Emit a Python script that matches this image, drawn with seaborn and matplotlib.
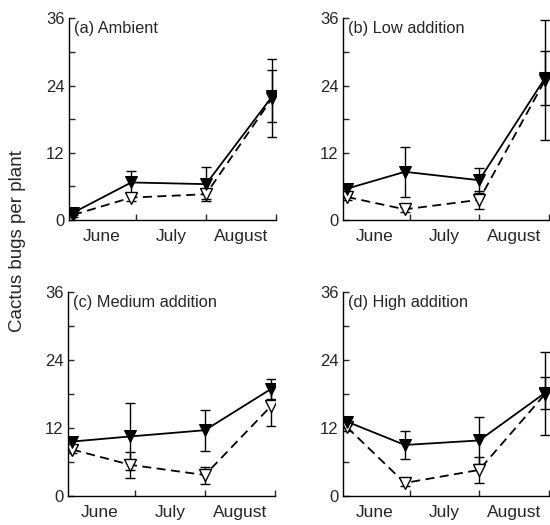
import matplotlib
matplotlib.use("Agg")
import matplotlib.pyplot as plt
import seaborn as sns
import pandas as pd

# ---- data ----
panel_titles = ["(a) Ambient", "(b) Low addition", "(c) Medium addition", "(d) High addition"]
sample_pos = [0.1, 0.93, 2.0, 2.95]          # sampling dates on the month axis
month_labels = ["June", "July", "August"]
month_pos = [0.5, 1.5, 2.5]
month_ticks = [1, 2, 3]

ambient_filled = [1.3, 6.7, 6.4, 22.1]
ambient_filled_se = [0.5, 2.0, 3.0, 4.6]
ambient_open = [0.9, 4.0, 4.6, 21.8]
ambient_open_se = [0.4, 0.7, 0.8, 7.0]

low_filled = [5.6, 8.6, 7.1, 25.4]
low_filled_se = [0.6, 4.5, 2.2, 4.8]
low_open = [4.1, 1.9, 3.6, 25.0]
low_open_se = [0.5, 0.5, 1.6, 10.7]

medium_filled = [9.6, 10.5, 11.6, 18.9]
medium_filled_se = [0.6, 5.9, 3.6, 1.8]
medium_open = [8.2, 5.5, 3.7, 15.9]
medium_open_se = [0.6, 2.3, 1.5, 3.5]

high_filled = [13.1, 9.0, 9.8, 18.2]
high_filled_se = [0.6, 2.4, 4.1, 2.8]
high_open = [12.1, 2.3, 4.6, 18.0]
high_open_se = [0.6, 0.5, 2.3, 7.3]

filled_series = [ambient_filled, low_filled, medium_filled, high_filled]
filled_errs = [ambient_filled_se, low_filled_se, medium_filled_se, high_filled_se]
open_series = [ambient_open, low_open, medium_open, high_open]
open_errs = [ambient_open_se, low_open_se, medium_open_se, high_open_se]

sns.set_style("ticks")
plt.rcParams["font.family"] = ["Liberation Sans", "DejaVu Sans"]
plt.rcParams["font.size"] = 12

fig = plt.figure(figsize=(5.5, 5.25), dpi=100)
rects = [
    [0.1255, 0.581, 0.376, 0.384],
    [0.6236, 0.581, 0.374, 0.384],
    [0.1236, 0.0552, 0.376, 0.389],
    [0.6236, 0.0552, 0.374, 0.389],
]

for i, r in enumerate(rects):
    ax = fig.add_axes(r)
    df_f = pd.DataFrame({"pos": sample_pos, "val": filled_series[i], "se": filled_errs[i]})
    df_o = pd.DataFrame({"pos": sample_pos, "val": open_series[i], "se": open_errs[i]})

    ax.errorbar(df_o["pos"], df_o["val"], yerr=df_o["se"], fmt="none",
                ecolor="black", elinewidth=1.0, capsize=3.5, capthick=1.0, zorder=1)
    ax.errorbar(df_f["pos"], df_f["val"], yerr=df_f["se"], fmt="none",
                ecolor="black", elinewidth=1.0, capsize=3.5, capthick=1.0, zorder=1)

    sns.lineplot(data=df_o, x="pos", y="val", ax=ax, color="black", linewidth=1.3,
                 linestyle=(0, (5, 3)), marker="v", markersize=8,
                 markerfacecolor="white", markeredgecolor="black",
                 markeredgewidth=1.0, zorder=2)
    sns.lineplot(data=df_f, x="pos", y="val", ax=ax, color="black", linewidth=1.3,
                 marker="v", markersize=8, markerfacecolor="black",
                 markeredgecolor="black", zorder=3)

    ax.set_xlim(0.04, 3.0)
    ax.set_ylim(0, 36)
    ax.set_xticks(month_ticks)
    ax.set_xticklabels([""] * len(month_ticks))
    ax.set_xticks(month_pos, minor=True)
    ax.set_xticklabels(month_labels, minor=True, fontsize=12.5)
    ax.tick_params(axis="x", which="minor", length=0, pad=6.5)
    ax.tick_params(axis="x", which="major", direction="in", length=4, width=1)
    ax.set_yticks([0, 12, 24, 36])
    ax.set_yticklabels(["0", "12", "24", "36"], fontsize=12)
    ax.set_yticks([6, 18, 30], minor=True)
    ax.tick_params(axis="y", which="both", direction="in", length=4, width=1, pad=3)
    ax.set_xlabel("")
    ax.set_ylabel("")
    sns.despine(ax=ax)
    for s in ["left", "bottom"]:
        ax.spines[s].set_linewidth(1.0)
        ax.spines[s].set_color("black")
    ax.text(0.025, 0.985, panel_titles[i], transform=ax.transAxes,
            ha="left", va="top", fontsize=11.8)

fig.text(0.031, 0.541, "Cactus bugs per plant", rotation=90, ha="center",
         va="center", fontsize=13.5)

fig.savefig("out.png", dpi=100, facecolor="white")
